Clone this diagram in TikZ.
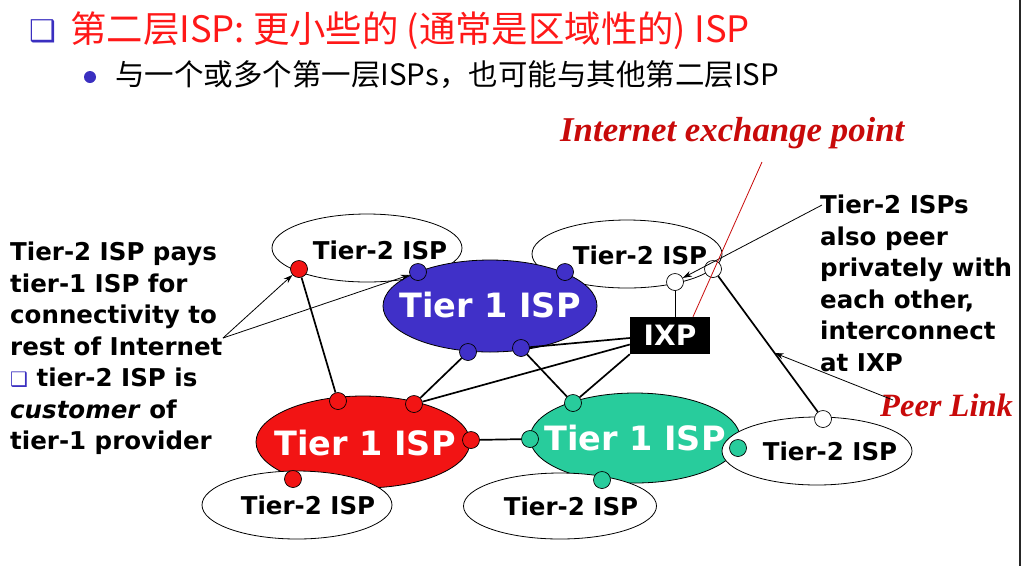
\documentclass[tikz,border=0pt]{standalone}
\usepackage{fontspec}
\setmainfont{DejaVu Sans}
\newfontfamily\cjk{Noto Sans CJK SC}
\newfontfamily\comic{DejaVu Sans}
\newfontfamily\timesf{Liberation Serif}
\usetikzlibrary{shapes.geometric,arrows.meta,calc}
\definecolor{t1blue}{RGB}{64,48,200}
\definecolor{t1red}{RGB}{242,20,20}
\definecolor{t1green}{RGB}{40,204,156}
\definecolor{titlered}{RGB}{255,24,24}
\definecolor{bulletblue}{RGB}{58,47,192}
\definecolor{darkred}{RGB}{200,10,10}
\begin{document}
\begin{tikzpicture}[x=1pt,y=-1pt,
  tiertwo/.style={ellipse, draw, fill=white, line width=0.8pt, inner sep=0pt, minimum width=190pt, minimum height=68pt},
  tierone/.style={ellipse, draw, line width=0.8pt, inner sep=0pt, minimum width=214pt, minimum height=92pt},
  onelbl/.style={inner sep=0pt, text=white, font=\comic\bfseries\fontsize{33.5}{36}\selectfont},
  dot/.style={circle, draw, line width=0.7pt, inner sep=0pt, minimum size=17pt},
  tlbl/.style={inner sep=0pt, font=\comic\bfseries\fontsize{24.5}{28}\selectfont},
  link/.style={line width=1.7pt},
  thinlink/.style={line width=0.8pt},
  pointer/.style={line width=0.8pt, -{Stealth[length=9pt,width=6pt]}},
  para/.style={inner sep=0pt, align=left, anchor=north west, font=\comic\bfseries\fontsize{24.5}{31.5}\selectfont},
  callout/.style={inner sep=0pt, text=darkred, font=\timesf\bfseries\itshape\fontsize{34.8}{38}\selectfont}
]
\useasboundingbox (0,0) rectangle (1022,566);
% frame line at right
\draw[line width=1.6pt, black!85] (1020,0) -- (1020,566);

% title lines
\node[inner sep=0pt, text=bulletblue, font=\comic\fontsize{30}{34}\selectfont] (tb) at (43,31) {❑};
\node[inner sep=0pt, anchor=west, text=titlered, font=\cjk\fontsize{36.4}{40}\selectfont] (title) at (70,31) {第二层ISP: 更小些的 (通常是区域性的) ISP};
\node[circle, fill=bulletblue, inner sep=0pt, minimum size=12pt] (sb) at (90,77) {};
\node[inner sep=0pt, anchor=west, font=\cjk\fontsize{29.5}{32}\selectfont] (sub) at (115,75) {与一个或多个第一层ISPs，也可能与其他第二层ISP};

% tier-2 behind the blue tier-1
\node[tiertwo] (tl) at (367,248) {};
\node[tiertwo] (tr) at (627,254) {};
% tier-1
\node[tierone, fill=t1blue] (blue) at (490,306) {};
\node[tierone, fill=t1red] (red) at (363,442) {};
\node[tierone, fill=t1green, minimum width=210pt, minimum height=90pt] (green) at (635,438) {};
\node[onelbl] (bluel) at (490,305) {Tier 1 ISP};
\node[onelbl] (redl) at (365,443) {Tier 1 ISP};
\node[onelbl] (greenl) at (635,438) {Tier 1 ISP};
% tier-2 in front
\node[tiertwo] (bl) at (297,505) {};
\node[tiertwo, minimum width=193pt, minimum height=66pt] (bm) at (560,506) {};
\node[tiertwo] (br) at (817,451) {};

% tier-2 labels
\node[tlbl] (tll) at (380,250) {Tier-2 ISP};
\node[tlbl] (trl) at (640,255) {Tier-2 ISP};
\node[tlbl] (bll) at (308,505) {Tier-2 ISP};
\node[tlbl] (bml) at (571,506) {Tier-2 ISP};
\node[tlbl] (brl) at (830,451) {Tier-2 ISP};

% IXP
\node[fill=black, inner sep=0pt, minimum width=80pt, minimum height=37pt, text=white,
      font=\comic\bfseries\fontsize{28}{32}\selectfont] (ixp) at (670,335.5) {IXP};

% dots
\node[dot, fill=t1red] (tlr) at (299,269) {};
\node[dot, fill=t1blue] (b1) at (418,272) {};
\node[dot, fill=t1blue] (b2) at (565,272) {};
\node[dot, fill=t1blue] (b3) at (468,352) {};
\node[dot, fill=t1blue] (b4) at (521,348) {};
\node[dot, fill=white] (w1) at (675,282) {};
\node[dot, fill=white] (w2) at (713,269) {};
\node[dot, fill=t1red] (r1) at (338,401) {};
\node[dot, fill=t1red] (r2) at (414,404) {};
\node[dot, fill=t1red] (r3) at (471,440) {};
\node[dot, fill=t1red] (r4) at (293,479) {};
\node[dot, fill=t1green] (g1) at (573,403) {};
\node[dot, fill=t1green] (g2) at (530,439) {};
\node[dot, fill=t1green] (g3) at (602,480) {};
\node[dot, fill=t1green] (g4) at (738,448) {};
\node[dot, fill=white] (w3) at (823,419) {};

% links
\draw[link] (tlr) -- (r1);
\draw[link] (b3) -- (r2);
\draw[link] (b4) -- (g1);
\draw[link] (r3) -- (g2);
\draw[link] ([yshift=-2.5pt]ixp.west) -- (b4);
\draw[link] ([yshift=-9pt]ixp.west) -- (r2);
\draw[link] (ixp.south west) -- (g1);
\draw[thinlink] (w1) -- (w1 |- ixp.north);
\draw[link] (w2) -- (w3);

% left paragraph
\node[para] (lefttext) at (10,242) {Tier-2 ISP pays\\tier-1 ISP for\\connectivity to\\rest of Internet\\{\color{bulletblue}\fontsize{20}{20}\mdseries ❑} tier-2 ISP is\\\textit{customer} of\\tier-1 provider};
\coordinate (lefttip) at (223,338);
\draw[pointer] (lefttip) -- (tlr);
\draw[pointer] (lefttip) -- (b1);

% right paragraph
\node[para] (righttext) at (820,195) {Tier-2 ISPs\\also peer\\privately with\\each other,\\interconnect\\at IXP};
\coordinate (righttip) at (822,205);
\draw[pointer] (righttip) -- (w1);

% callouts
\node[callout, anchor=west] (iep) at (560,133) {Internet exchange point};
\coordinate (iepend) at (762,162);
\draw[darkred, line width=0.8pt] (iepend) -- ([xshift=23pt]ixp.north);
\node[callout, anchor=west, font=\timesf\bfseries\itshape\fontsize{32.5}{36}\selectfont] (peer) at (880,405) {Peer Link};
\coordinate (peerstart) at (893,400);
\coordinate (peertip) at ($(w2)!0.56!(w3)$);
\draw[pointer] (peerstart) -- (peertip);
\end{tikzpicture}
\end{document}
